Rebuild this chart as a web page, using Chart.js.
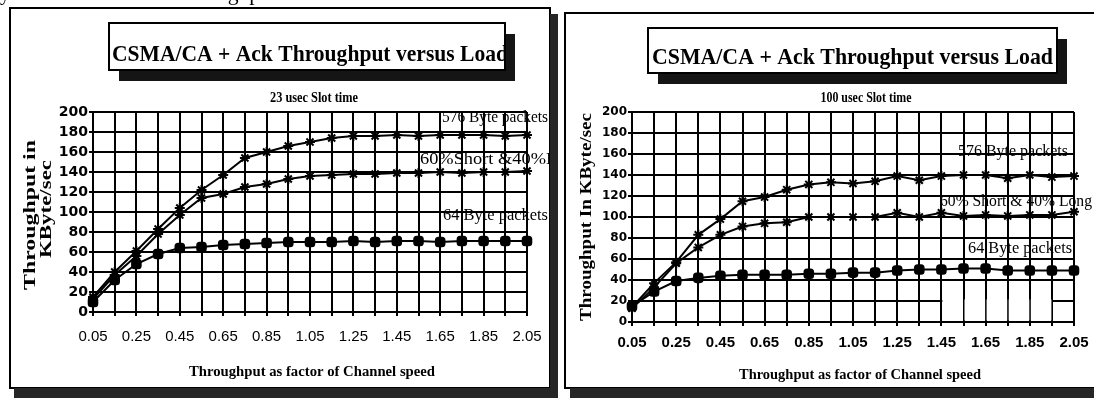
<!DOCTYPE html>
<html>
<head>
<meta charset="utf-8">
<script src="https://cdn.jsdelivr.net/npm/chart.js@4.4.0/dist/chart.umd.min.js"></script>
<style>
html, body { margin: 0; padding: 0; background: #fff; }
body { width: 1094px; height: 398px; position: relative; overflow: hidden; }
canvas { position: absolute; top: 0; }
#left { left: 0; width: 560px; height: 398px; }
#right { left: 560px; width: 534px; height: 398px; }
</style>
</head>
<body>
<canvas id="left" width="560" height="398"></canvas>
<canvas id="right" width="534" height="398"></canvas>
<script>
// load (x axis categories) and the labels printed under the axis
var loadFactors = ['0.05', '0.15', '0.25', '0.35', '0.45', '0.55', '0.65', '0.75', '0.85', '0.95', '1.05',
  '1.15', '1.25', '1.35', '1.45', '1.55', '1.65', '1.75', '1.85', '1.95', '2.05'];
var xTickLabels = ['0.05', '0.25', '0.45', '0.65', '0.85', '1.05', '1.25', '1.45', '1.65', '1.85', '2.05'];
var yTickValues = [0, 20, 40, 60, 80, 100, 120, 140, 160, 180, 200];

// 23 usec slot time
var slot23_576 = [15, 40, 61, 83, 104, 122, 137, 154, 160, 166, 170, 174, 176, 176, 177, 176, 177, 177, 177, 176, 177];
var slot23_mix = [13, 37, 56, 78, 97, 114, 118, 125, 128, 133, 136, 137, 138, 138, 139, 139, 140, 139, 140, 140, 141];
var slot23_64 = [10, 32, 48, 58, 64, 65, 67, 68, 69, 70, 70, 70, 71, 70, 71, 71, 70, 71, 71, 71, 71];

// 100 usec slot time
var slot100_576 = [14, 37, 57, 83, 98, 115, 119, 126, 131, 133, 132, 134, 139, 135, 139, 140, 140, 137, 140, 138, 139];
var slot100_mix = [13, 33, 56, 71, 83, 91, 94, 95, 100, 100, 100, 100, 104, 100, 104, 101, 102, 101, 102, 102, 105];
var slot100_64 = [15, 29, 39, 42, 44, 45, 45, 45, 46, 46, 47, 47, 49, 50, 50, 51, 51, 49, 49, 49, 49];

var serif = '"Liberation Serif", "Times New Roman", serif';
var sans = '"Liberation Sans", Arial, sans-serif';

function drawText(ctx, t) {
  ctx.save();
  ctx.font = t.font;
  ctx.fillStyle = '#000';
  ctx.textBaseline = 'middle';
  ctx.textAlign = t.align || 'left';
  var w = ctx.measureText(t.text).width;
  var sx = t.width ? t.width / w : (t.sx || 1);
  ctx.translate(t.x, t.y);
  if (t.rotate) ctx.rotate(-Math.PI / 2);
  ctx.scale(sx, 1);
  ctx.fillText(t.text, 0, 0);
  ctx.restore();
}

var deco = {
  id: 'deco',
  beforeDatasetsDraw: function(chart, args, o) {
    if (!o.blank) return;
    // scanner artefact: white patches over the bottom right cells
    var ctx = chart.ctx, xs = chart.scales.x, ys = chart.scales.y;
    ctx.save();
    ctx.fillStyle = '#fff';
    for (var i = o.blank.from; i < o.blank.to; i++) {
      var x0 = xs.getPixelForValue(i) + 1;
      var x1 = xs.getPixelForValue(i + 1) - 0.5;
      var y0 = ys.getPixelForValue(o.blank.top);
      var y1 = ys.getPixelForValue(o.blank.bottom);
      ctx.fillRect(x0, y0, x1 - x0, y1 - y0);
    }
    ctx.restore();
  },
  afterDraw: function(chart, args, o) {
    var ctx = chart.ctx;
    ctx.save();
    ctx.translate(-o.offset, 0);

    // series labels, clipped by the frame
    ctx.save();
    ctx.beginPath();
    ctx.rect(o.clip[0], o.clip[1], o.clip[2], o.clip[3]);
    ctx.clip();
    o.labels.forEach(function(t) { drawText(ctx, t); });
    o.texts.forEach(function(t) { drawText(ctx, t); });
    ctx.restore();

    // outer frame
    ctx.lineWidth = 2;
    ctx.strokeStyle = '#000';
    ctx.strokeRect(o.frame[0], o.frame[1], o.frame[2], o.frame[3]);
    ctx.fillStyle = '#262626';
    o.shadows.forEach(function(r) { ctx.fillRect(r[0], r[1], r[2], r[3]); });

    // title box with drop shadow
    var b = o.box;
    ctx.fillStyle = '#151515';
    ctx.fillRect(b[0] + 10, b[1] + 11, b[2], b[3]);
    ctx.fillStyle = '#fff';
    ctx.fillRect(b[0], b[1], b[2], b[3]);
    ctx.strokeRect(b[0], b[1], b[2], b[3]);
    ctx.save();
    ctx.beginPath();
    ctx.rect(b[0] + 1, b[1] + 1, b[2] - 2, b[3] - 2);
    ctx.clip();
    drawText(ctx, o.title);
    ctx.restore();

    ctx.restore();
  }
};

function makeChart(id, series, styles, layout, d) {
  var datasets = series.map(function(s, i) {
    return {
      data: s,
      borderColor: '#000',
      backgroundColor: '#000',
      borderWidth: 2,
      pointStyle: styles[i].style,
      pointRadius: styles[i].r,
      pointBorderWidth: 2,
      pointBackgroundColor: '#000',
      pointBorderColor: '#000',
      tension: 0,
      clip: false
    };
  });
  return new Chart(document.getElementById(id), {
    type: 'line',
    data: { labels: loadFactors, datasets: datasets },
    options: {
      responsive: false,
      animation: false,
      layout: { padding: layout.padding },
      plugins: { legend: { display: false }, tooltip: { enabled: false }, deco: d },
      scales: {
        x: {
          grid: { color: '#000', lineWidth: 2, tickLength: 4, tickColor: '#000' },
          border: { color: '#000', width: 2 },
          ticks: {
            autoSkip: false, maxRotation: 0, padding: layout.xPad, color: '#000',
            font: layout.xFont,
            callback: function(v) {
              var lab = this.getLabelForValue(v);
              return xTickLabels.indexOf(lab) >= 0 ? lab : '';
            }
          },
          afterFit: function(s) { s.height = layout.xHeight; s.paddingLeft = 0; s.paddingRight = 0; }
        },
        y: {
          min: 0, max: 200,
          grid: { color: '#000', lineWidth: 2, tickLength: 4, tickColor: '#000' },
          border: { color: '#000', width: 2 },
          ticks: { padding: 1, color: '#000', font: layout.yFont },
          afterBuildTicks: function(s) { s.ticks = yTickValues.map(function(v) { return { value: v }; }); },
          afterFit: function(s) { s.width = layout.yWidth; s.paddingTop = 0; s.paddingBottom = 0; }
        }
      }
    },
    plugins: [deco]
  });
}

var markStyles = [
  { style: 'star', r: 5 },
  { style: 'star', r: 5 },
  { style: 'rectRounded', r: 5 }
];

makeChart('left', [slot23_576, slot23_mix, slot23_64], markStyles, {
  padding: { left: 0, top: 112, right: 33, bottom: 16 },
  xHeight: 70, yWidth: 93, xPad: 12,
  xFont: { family: sans, size: 15 },
  yFont: { family: '"DejaVu Sans", sans-serif', size: 14, weight: 'bold' }
}, {
  offset: 0,
  clip: [0, 0, 549, 398],
  frame: [10, 8, 540, 380],
  shadows: [[550, 14, 8, 384], [14, 388, 544, 10]],
  box: [109, 23, 396, 47],
  title: { text: 'CSMA/CA + Ack Throughput versus Load', font: 'bold 24px ' + serif, x: 112, y: 55, width: 396 },
  labels: [
    { text: '576 Byte packets', font: '17px ' + serif, x: 442, y: 118, width: 106 },
    { text: '60%Short &40%Long', font: '17px ' + serif, x: 420, y: 160, sx: 1.08 },
    { text: '64 Byte packets', font: '17px ' + serif, x: 443, y: 216, width: 105 }
  ],
  texts: [
    { text: 'y', font: '20px ' + serif, x: 0, y: -5 },
    { text: 'throughput', font: '20px ' + serif, x: 182, y: -5, width: 95 },
    { text: '23 usec Slot time', font: 'bold 14px ' + serif, x: 314, y: 98, width: 88, align: 'center' },
    { text: 'Throughput in', font: 'bold 17px ' + serif, x: 31, y: 215, width: 150, align: 'center', rotate: true },
    { text: 'KByte/sec', font: 'bold 17px ' + serif, x: 47, y: 209, width: 98, align: 'center', rotate: true },
    { text: 'Throughput as factor of Channel speed', font: 'bold 14px ' + serif, x: 312, y: 372, width: 246, align: 'center' }
  ]
});

makeChart('right', [slot100_576, slot100_mix, slot100_64], markStyles, {
  padding: { left: 0, top: 112, right: 20, bottom: 16 },
  xHeight: 60, yWidth: 72, xPad: 8,
  xFont: { family: sans, size: 15, weight: 'bold' },
  yFont: { family: '"DejaVu Sans", sans-serif', size: 12, weight: 'bold' }
}, {
  offset: 560,
  clip: [560, 0, 534, 398],
  frame: [565, 13, 700, 375],
  shadows: [[570, 388, 600, 10]],
  box: [648, 28, 409, 45],
  title: { text: 'CSMA/CA + Ack Throughput versus Load', font: 'bold 24px ' + serif, x: 652, y: 58, width: 401 },
  blank: { from: 14, to: 19, top: 21.5, bottom: 1.5 },
  labels: [
    { text: '576 Byte packets', font: '17px ' + serif, x: 958, y: 152, width: 110 },
    { text: '60% Short & 40% Long', font: '17px ' + serif, x: 940, y: 202, width: 152 },
    { text: '64 Byte packets', font: '17px ' + serif, x: 968, y: 249, width: 104 }
  ],
  texts: [
    { text: '100 usec Slot time', font: 'bold 14px ' + serif, x: 866, y: 98, width: 91, align: 'center' },
    { text: 'Throughput In KByte/sec', font: 'bold 17px ' + serif, x: 587, y: 217, width: 208, align: 'center', rotate: true },
    { text: 'Throughput as factor of Channel speed', font: 'bold 14px ' + serif, x: 860, y: 375, width: 242, align: 'center' }
  ]
});
</script>
</body>
</html>
